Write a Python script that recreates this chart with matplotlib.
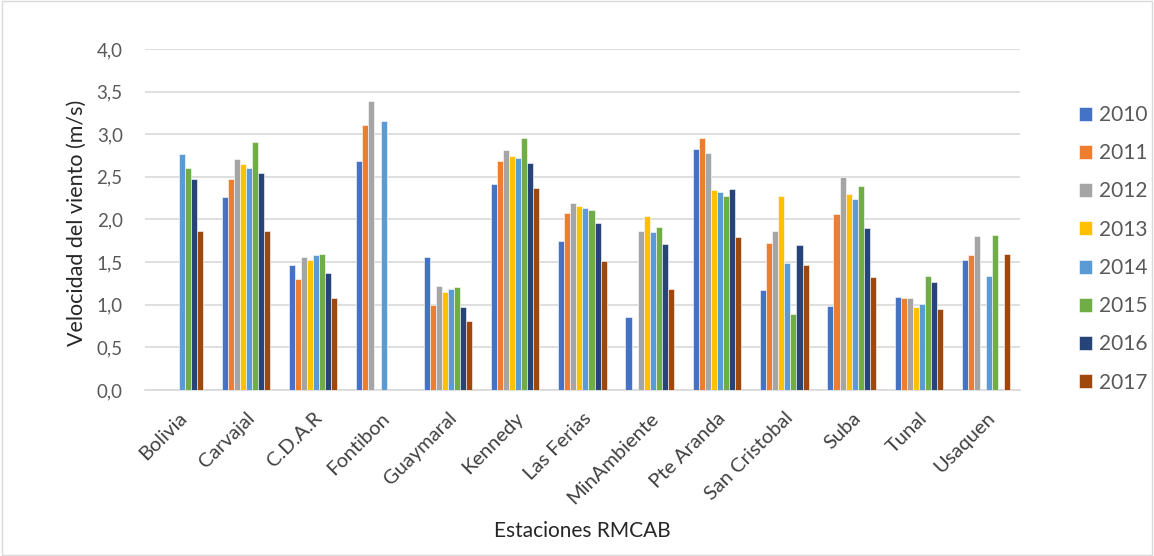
import numpy as np
import matplotlib.pyplot as plt
from matplotlib.ticker import FuncFormatter

plt.rcParams['font.family'] = ['Lato', 'DejaVu Sans']

# Datos: velocidad del viento por estación y año
estaciones = ['Bolivia', 'Carvajal', 'C.D.A.R', 'Fontibon', 'Guaymaral', 'Kennedy',
              'Las Ferias', 'MinAmbiente', 'Pte Aranda', 'San Cristobal', 'Suba',
              'Tunal', 'Usaquen']
anios = ['2010', '2011', '2012', '2013', '2014', '2015', '2016', '2017']
nan = np.nan
v2010 = [nan, 2.26, 1.47, 2.68, 1.56, 2.41, 1.75, 0.86, 2.83, 1.17, 0.99, 1.09, 1.52]
v2011 = [nan, 2.48, 1.30, 3.11, 1.00, 2.68, 2.07, nan, 2.95, 1.72, 2.06, 1.08, 1.58]
v2012 = [nan, 2.71, 1.56, 3.39, 1.22, 2.82, 2.19, 1.86, 2.78, 1.86, 2.50, 1.08, 1.81]
v2013 = [nan, 2.65, 1.53, nan, 1.15, 2.74, 2.16, 2.04, 2.34, 2.27, 2.30, 0.97, nan]
v2014 = [2.77, 2.60, 1.58, 3.16, 1.18, 2.72, 2.14, 1.85, 2.32, 1.49, 2.24, 1.01, 1.34]
v2015 = [2.60, 2.91, 1.59, nan, 1.21, 2.96, 2.11, 1.91, 2.28, 0.89, 2.39, 1.34, 1.82]
v2016 = [2.48, 2.54, 1.37, nan, 0.97, 2.66, 1.96, 1.71, 2.36, 1.70, 1.90, 1.27, nan]
v2017 = [1.87, 1.87, 1.08, nan, 0.81, 2.37, 1.51, 1.19, 1.80, 1.47, 1.33, 0.95, 1.59]
series = [v2010, v2011, v2012, v2013, v2014, v2015, v2016, v2017]
colores = ['#4472C4', '#ED7D31', '#A5A5A5', '#FFC000', '#5B9BD5', '#70AD47', '#264478', '#9E480E']

fig = plt.figure(figsize=(11.54, 5.56), dpi=100)
ax = fig.add_axes([0.1256, 0.2986, 0.7582, 0.6134])

x = np.arange(len(estaciones))
w = 0.09
for i, (vals, c) in enumerate(zip(series, colores)):
    ax.bar(x + (i - 3.5) * w, vals, w, color=c, edgecolor='white', linewidth=0.4,
           label=anios[i], zorder=3)

ax.set_ylim(0, 4)
ax.set_xlim(-0.5, len(estaciones) - 0.5)
ax.set_yticks(np.arange(0, 4.01, 0.5))
ax.yaxis.set_major_formatter(FuncFormatter(lambda v, p: f'{v:.1f}'.replace('.', ',')))
ax.grid(axis='y', color='#D9D9D9', linewidth=1.2, zorder=0)
for s in ['top', 'right', 'left']:
    ax.spines[s].set_visible(False)
ax.spines['bottom'].set_color('#D9D9D9')
ax.spines['bottom'].set_linewidth(1.2)
ax.tick_params(axis='y', length=0, labelsize=13.5, colors='#595959', pad=16)
ax.tick_params(axis='x', length=0, labelsize=14.5, colors='#404040', pad=14)
ax.set_xticks(x)
ax.set_xticklabels(estaciones, rotation=45, ha='right', rotation_mode='anchor')
ax.set_ylabel('Velocidad del viento (m/s)', fontsize=15.5, color='#262626')
ax.yaxis.set_label_coords(-0.066, 0.49)
ax.set_xlabel('Estaciones RMCAB', fontsize=15, color='#262626')
ax.xaxis.set_label_coords(0.5, -0.385)

leg = ax.legend(loc='center left', bbox_to_anchor=(1.067, 0.414), frameon=False,
                fontsize=15, labelspacing=0.875, handlelength=0.67, handleheight=0.67,
                handletextpad=0.3, borderpad=0, borderaxespad=0)
for t in leg.get_texts():
    t.set_color('#595959')

fig.patches.append(plt.Rectangle((0.002, 0.002), 0.996, 0.996, transform=fig.transFigure,
                                 fill=False, edgecolor='#D9D9D9', linewidth=1))
fig.savefig('out.png', dpi=100)
